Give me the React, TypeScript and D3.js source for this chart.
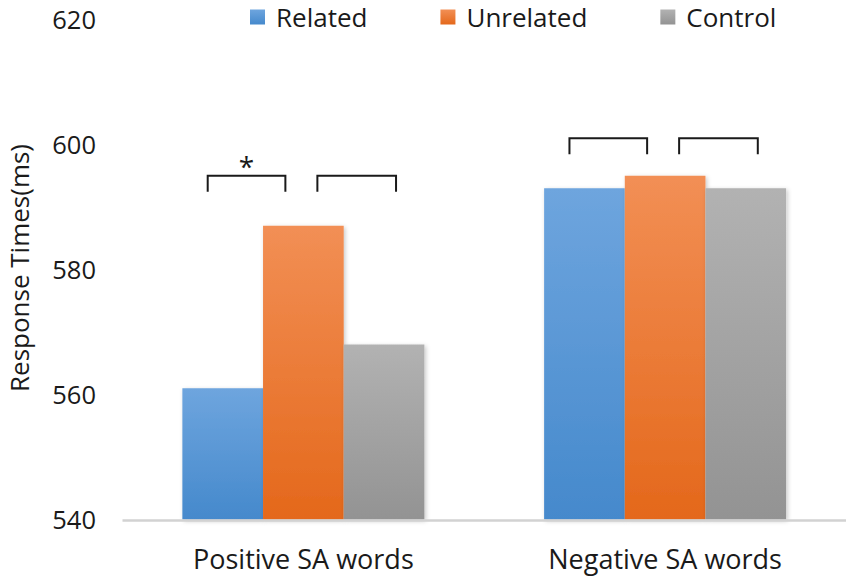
import * as d3 from "d3";

const categories = ["Positive SA words", "Negative SA words"];
const seriesNames = ["Related", "Unrelated", "Control"];
const related = [561, 593];
const unrelated = [587, 595];
const control = [568, 593];
const yTicks = [540, 560, 580, 600, 620];

// significance brackets: group index, bar from/to, level (ms), label
const brackets: [number, number, number, number, string][] = [
  [0, 0, 1, 595, "*"],
  [0, 1, 2, 595, ""],
  [1, 0, 1, 601, ""],
  [1, 1, 2, 601, ""],
];

const seriesValues = [related, unrelated, control];
const gradients = [
  ["#6ea5de", "#4589cc"],
  ["#f28f55", "#e4681b"],
  ["#b2b2b2", "#939393"],
];

const FONT = "'Open Sans', 'Noto Sans', sans-serif";
const TEXT = "#1a1a1a";

const measure = (txt: string, size: number) => {
  const ctx = document.createElement("canvas").getContext("2d");
  if (!ctx) return txt.length * size * 0.52;
  ctx.font = `${size}px 'Open Sans'`;
  return ctx.measureText(txt).width;
};

const App = () => {
  const width = 851;
  const height = 578;

  const yScale = d3.scaleLinear().domain([540, 620]).range([519.5, 19.5]);

  const xScale = d3
    .scaleBand()
    .domain(categories)
    .range([122.5, 846])
    .paddingInner(0.331)
    .paddingOuter(0.1655);

  const innerScale = d3
    .scaleBand()
    .domain(seriesNames)
    .range([0, xScale.bandwidth()]);

  const barCenter = (g: number, s: number) =>
    xScale(categories[g])! + innerScale(seriesNames[s])! + innerScale.bandwidth() / 2;

  // legend layout
  const legendSize = 26;
  let lx = 250;
  const legendItems = seriesNames.map((name, i) => {
    const x = lx;
    lx += 15 + 11 + measure(name, legendSize) + 73;
    return { name, x, i };
  });

  return (
    <svg
      width={width}
      height={height}
      style={{ position: "absolute", left: 0, top: 0, background: "#fff" }}
      fontFamily={FONT}
    >
      <defs>
        {gradients.map(([top, bottom], i) => (
          <linearGradient key={i} id={`grad${i}`} x1="0" y1="0" x2="0" y2="1">
            <stop offset="0%" stopColor={top} />
            <stop offset="100%" stopColor={bottom} />
          </linearGradient>
        ))}
        <filter id="shadow" x="-10%" y="-10%" width="130%" height="130%">
          <feDropShadow dx="1.5" dy="1.5" stdDeviation="2" floodColor="#000" floodOpacity="0.22" />
        </filter>
      </defs>

      {/* legend */}
      {legendItems.map(({ name, x, i }) => (
        <g key={name}>
          <rect x={x} y={9.5} width={15} height={15} fill={`url(#grad${i})`} />
          <text x={x + 26} y={27} fontSize={legendSize} fill={TEXT}>
            {name}
          </text>
        </g>
      ))}

      {/* y axis labels */}
      {yTicks.map((t) => (
        <text
          key={t}
          x={96}
          y={yScale(t) + 9.3}
          textAnchor="end"
          fontSize={25.5}
          fill={TEXT}
        >
          {t}
        </text>
      ))}
      <text
        transform={`translate(29,268) rotate(-90)`}
        textAnchor="middle"
        fontSize={26}
        fill={TEXT}
      >
        Response Times(ms)
      </text>

      {/* bars */}
      {categories.map((cat, g) => (
        <g key={cat} transform={`translate(${xScale(cat)},0)`}>
          {seriesNames.map((s, i) => (
            <rect
              key={s}
              x={innerScale(s)!}
              y={yScale(seriesValues[i][g])}
              width={innerScale.bandwidth()}
              height={yScale(540) - yScale(seriesValues[i][g])}
              fill={`url(#grad${i})`}
              filter="url(#shadow)"
            />
          ))}
        </g>
      ))}

      {/* baseline */}
      <line
        x1={122.5}
        x2={846}
        y1={yScale(540) + 1}
        y2={yScale(540) + 1}
        stroke="#d2d2d2"
        strokeWidth={2.5}
      />

      {/* category labels */}
      {categories.map((cat) => (
        <text
          key={cat}
          x={xScale(cat)! + xScale.bandwidth() / 2}
          y={569}
          textAnchor="middle"
          fontSize={27}
          fill={TEXT}
        >
          {cat}
        </text>
      ))}

      {/* significance brackets */}
      {brackets.map(([g, from, to, level, label], k) => {
        const first = from === 0;
        const x1 = barCenter(g, from) + (first ? -15 : 14);
        const x2 = barCenter(g, to) + (first ? -18 : 12);
        const y = yScale(level);
        return (
          <g key={k}>
            <path
              d={`M${x1},${y + 16}V${y}H${x2}V${y + 16}`}
              fill="none"
              stroke={TEXT}
              strokeWidth={2}
            />
            {label && (
              <text
                x={(x1 + x2) / 2}
                y={y + 1}
                textAnchor="middle"
                fontSize={28}
                fill={TEXT}
              >
                {label}
              </text>
            )}
          </g>
        );
      })}
    </svg>
  );
};

export default App;
